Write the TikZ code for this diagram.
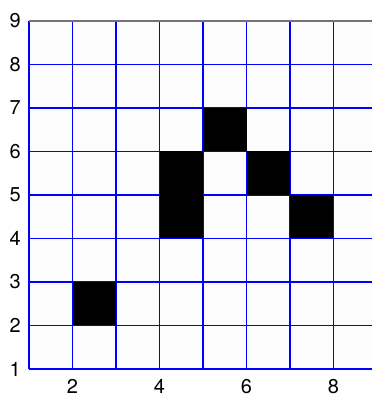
\documentclass[tikz,border=0pt]{standalone}
\usepackage{fontspec}
\setmainfont{TeX Gyre Heros}

\begin{document}
\begin{tikzpicture}[
  x=43.5pt,
  y=43.5pt,
  font=\fontsize{20}{22}\selectfont,
  plot area/.style={
    fill=black!1,
    draw=none
  },
  grid line/.style={
    draw=blue,
    line width=1.5pt
  },
  top axis/.style={
    draw=black!55,
    line width=1.5pt
  },
  live cell/.style={
    fill=black,
    draw=none
  },
  ytick/.style={
    anchor=east,
    inner sep=0pt
  },
  xtick/.style={
    anchor=north,
    inner sep=0pt
  }
]

\useasboundingbox (0.333,0.356) rectangle (8.885,9.483);

\fill[plot area] (1,1) rectangle (8.885,9);

% grid
\foreach \gx in {1,...,8}
  \draw[grid line] (\gx,1) -- (\gx,9);
\foreach \gy in {1,...,8}
  \draw[grid line] (1,\gy) -- (8.885,\gy);
\draw[top axis] (1,9) -- (8.885,9);

% live cells
\fill[live cell] (2,2) rectangle (3,3);
\fill[live cell] (4,4) rectangle (5,6);
\fill[live cell] (5,6) rectangle (6,7);
\fill[live cell] (6,5) rectangle (7,6);
\fill[live cell] (7,4) rectangle (8,5);

% tick labels
\foreach \ty in {1,...,9}
  \node[ytick] (ylabel-\ty) at ([xshift=-8pt]1,\ty) {\ty};
\foreach \tx in {2,4,6,8}
  \node[xtick] (xlabel-\tx) at ([yshift=-10pt]\tx,1) {\tx};

\end{tikzpicture}
\end{document}
